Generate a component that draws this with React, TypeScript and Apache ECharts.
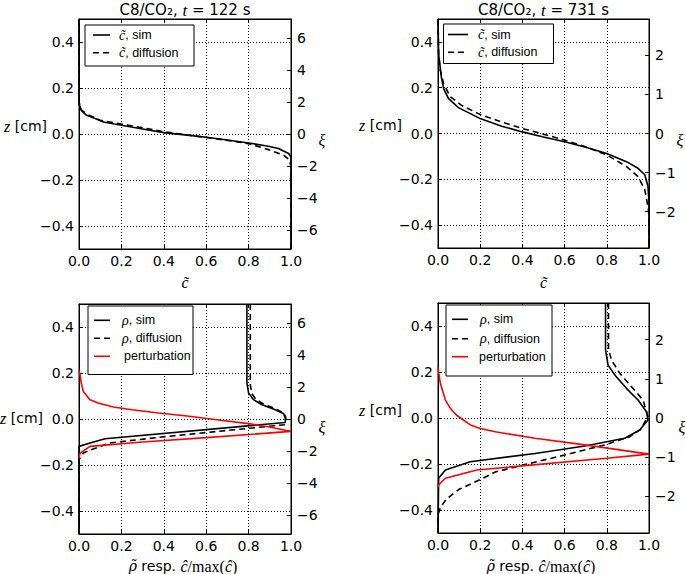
import React, { useEffect, useRef } from 'react';
import * as echarts from 'echarts';

// ---------- data: [value on x axis, z in cm] ----------
// Panel 1: t = 122 s, normalised concentration c~
const cSim122: [number, number][] = [
  [0, 0.5], [0, 0.13], [0.013, 0.1], [0.036, 0.081], [0.076, 0.067], [0.115, 0.052],
  [0.2, 0.038], [0.3, 0.022], [0.4, 0.006], [0.5, -0.004], [0.6, -0.014], [0.7, -0.026],
  [0.8, -0.039], [0.894, -0.053], [0.94, -0.063], [0.989, -0.085], [1.0, -0.1], [1.0, -0.5],
];
const cDiff122: [number, number][] = [
  [0, 0.5], [0, 0.14], [0.01, 0.105], [0.04, 0.085], [0.1, 0.06], [0.2, 0.043],
  [0.3, 0.027], [0.4, 0.01], [0.5, -0.003], [0.6, -0.015], [0.7, -0.028], [0.8, -0.042],
  [0.894, -0.068], [0.965, -0.092], [0.99, -0.11], [1.0, -0.14], [1.0, -0.5],
];
// Panel 2: t = 731 s
const cSim731: [number, number][] = [
  [0, 0.5], [0.003, 0.346], [0.016, 0.245], [0.027, 0.195], [0.05, 0.152], [0.097, 0.113],
  [0.2, 0.065], [0.302, 0.032], [0.4, 0.007], [0.5, -0.015], [0.6, -0.036], [0.7, -0.06],
  [0.8, -0.087], [0.893, -0.123], [0.948, -0.152], [0.98, -0.18], [0.995, -0.23],
  [1.0, -0.3], [1.0, -0.5],
];
const cDiff731: [number, number][] = [
  [0, 0.5], [0.003, 0.35], [0.01, 0.28], [0.027, 0.216], [0.058, 0.161], [0.113, 0.122],
  [0.2, 0.083], [0.302, 0.05], [0.4, 0.022], [0.5, -0.003], [0.6, -0.029], [0.7, -0.058],
  [0.8, -0.094], [0.893, -0.144], [0.948, -0.188], [0.98, -0.245], [0.995, -0.318],
  [1.0, -0.36], [1.0, -0.5],
];
// Panel 3: t = 122 s, density and perturbation
const rhoSim122: [number, number][] = [
  [0.792, 0.5], [0.792, 0.157], [0.8, 0.113], [0.823, 0.084], [0.863, 0.062], [0.926, 0.04],
  [0.965, 0.023], [0.973, 0.004], [0.973, -0.015], [0.123, -0.086], [0.06, -0.102],
  [0, -0.119], [0, -0.5],
];
const rhoDiff122: [number, number][] = [
  [0.808, 0.5], [0.808, 0.15], [0.815, 0.11], [0.835, 0.085], [0.87, 0.065], [0.93, 0.043],
  [0.968, 0.025], [0.976, 0.005], [0.97, -0.025], [0.414, -0.076], [0.146, -0.104],
  [0.068, -0.13], [0.02, -0.148], [0, -0.177], [0, -0.5],
];
const pert122: [number, number][] = [
  [0, 0.21], [0.005, 0.193], [0.01, 0.16], [0.02, 0.12], [0.052, 0.084], [0.09, 0.07],
  [0.162, 0.052], [0.25, 0.04], [0.375, 0.026], [0.5, 0.014], [0.65, -0.003], [0.8, -0.02],
  [0.9, -0.035], [1.0, -0.054], [0.6, -0.081], [0.3, -0.1], [0.052, -0.119],
  [0.005, -0.148], [0, -0.17],
];
// Panel 4: t = 731 s
const rhoSim731: [number, number][] = [
  [0.794, 0.5], [0.794, 0.296], [0.806, 0.23], [0.84, 0.185], [0.893, 0.129], [0.948, 0.078],
  [0.988, 0.027], [0.995, -0.009], [0.956, -0.052], [0.885, -0.088], [0.696, -0.122],
  [0.46, -0.154], [0.153, -0.19], [0.035, -0.226], [0.003, -0.262], [0, -0.5],
];
const rhoDiff731: [number, number][] = [
  [0.808, 0.5], [0.808, 0.3], [0.822, 0.252], [0.862, 0.194], [0.917, 0.136], [0.972, 0.078],
  [0.995, 0.006], [0.96, -0.05], [0.909, -0.081], [0.79, -0.117], [0.6, -0.161],
  [0.4, -0.205], [0.271, -0.235], [0.19, -0.272], [0.1, -0.31], [0.04, -0.352],
  [0.011, -0.39], [0, -0.42], [0, -0.5],
];
const pert731: [number, number][] = [
  [0, 0.22], [0.003, 0.2], [0.011, 0.151], [0.035, 0.078], [0.06, 0.04], [0.087, 0.013],
  [0.153, -0.03], [0.2, -0.046], [0.271, -0.06], [0.46, -0.088], [0.696, -0.117],
  [1.0, -0.157], [0.8, -0.175], [0.184, -0.226], [0.035, -0.262], [0.003, -0.291], [0, -0.3],
];

const titles = ['122', '731'];
const xiRange = [7.17, 2.93, 7.17, 2.93];
const xiSplit = [7, 5, 7, 5];

const SERIF = 'Liberation Serif';
const DSERIF = 'DejaVu Serif';
const SANS = 'DejaVu Sans';
const LSANS = 'Liberation Sans';

const fmtZ = (v: number) => (Math.abs(v) < 1e-9 ? '0.0' : v.toFixed(1).replace('-', '\u2212'));
const fmtXi = (v: number) => (Math.abs(v) < 1e-9 ? '0' : String(Math.round(v)).replace('-', '\u2212'));
const fmtX = (v: number) => v.toFixed(1);

const grids = [
  { left: 79, top: 19, width: 212, height: 230 },
  { left: 438, top: 19, width: 211, height: 229 },
  { left: 79, top: 304, width: 212, height: 230 },
  { left: 438, top: 303, width: 211, height: 230 },
];

const mathRich = {
  m: { fontFamily: SERIF, fontStyle: 'italic', fontSize: 16, fill: '#000' },
  g: { fontFamily: DSERIF, fontStyle: 'italic', fontSize: 14, fill: '#000' },
  r: { fontFamily: SERIF, fontSize: 16, fill: '#000' },
  a: { fontFamily: SANS, fontSize: 14, fill: '#000' },
  t: { fontFamily: SANS, fontSize: 15, fill: '#000' },
  ti: { fontFamily: SERIF, fontStyle: 'italic', fontSize: 17, fill: '#000' },
  lm: { fontFamily: SERIF, fontStyle: 'italic', fontSize: 14, fill: '#000' },
  la: { fontFamily: LSANS, fontSize: 12.5, fill: '#000' },
};

function txt(x: number, y: number, text: string, align = 'center') {
  return {
    type: 'text',
    x,
    y,
    silent: true,
    style: { text, rich: mathRich, align, verticalAlign: 'middle', fill: '#000' },
  };
}

function legend(box: number[], rows: number[], lx: number[], tx: number[], items: any[]) {
  const els: any[] = [
    {
      type: 'rect',
      silent: true,
      shape: { x: box[0], y: box[1], width: box[2], height: box[3] },
      style: { fill: '#fff', stroke: '#000', lineWidth: 1 },
      z: 100,
    },
  ];
  items.forEach((it, i) => {
    els.push({
      type: 'line',
      silent: true,
      z: 101,
      shape: { x1: lx[0], y1: rows[i], x2: lx[1], y2: rows[i] },
      style: { stroke: it.color, lineWidth: 1.6, lineDash: it.dash ? [6, 4] : null },
    });
    const t: any = txt(tx[i], rows[i], it.label, 'left');
    t.z = 101;
    els.push(t);
  });
  return els;
}

export default function App() {
  const ref = useRef<HTMLDivElement>(null);

  useEffect(() => {
    if (!ref.current) return;
    const chart = echarts.init(ref.current, undefined, { renderer: 'svg' });

    const xAxis: any[] = [];
    const yAxis: any[] = [];
    grids.forEach((_, i) => {
      xAxis.push({
        gridIndex: i, type: 'value', min: 0, max: 1, interval: 0.2, position: 'bottom',
        axisLine: { show: true, onZero: false, lineStyle: { color: '#000', width: 1 } },
        axisTick: { show: true, inside: true, length: 4, lineStyle: { color: '#000' } },
        axisLabel: { show: true, formatter: fmtX, color: '#000', fontSize: 14, fontFamily: SANS, margin: 5 },
        splitLine: { show: true, lineStyle: { color: '#000', width: 1, type: [1, 2] } },
      });
    });
    grids.forEach((_, i) => {
      xAxis.push({
        gridIndex: i, type: 'value', min: 0, max: 1, interval: 0.2, position: 'top',
        axisLine: { show: true, onZero: false, lineStyle: { color: '#000', width: 1 } },
        axisTick: { show: true, inside: true, length: 4, lineStyle: { color: '#000' } },
        axisLabel: { show: false },
        splitLine: { show: false },
      });
    });
    grids.forEach((_, i) => {
      yAxis.push({
        gridIndex: i, type: 'value', min: -0.5, max: 0.5, splitNumber: 5, position: 'left',
        axisLine: { show: true, onZero: false, lineStyle: { color: '#000', width: 1 } },
        axisTick: { show: true, inside: true, length: 4, lineStyle: { color: '#000' } },
        axisLabel: {
          show: true, formatter: fmtZ, color: '#000', fontSize: 14, fontFamily: SANS, margin: 5,
          showMinLabel: false, showMaxLabel: false,
        },
        splitLine: { show: true, lineStyle: { color: '#000', width: 1, type: [1, 2] } },
      });
    });
    grids.forEach((_, i) => {
      yAxis.push({
        gridIndex: i, type: 'value', min: -xiRange[i], max: xiRange[i], splitNumber: xiSplit[i],
        position: 'right',
        axisLine: { show: true, onZero: false, lineStyle: { color: '#000', width: 1 } },
        axisTick: { show: true, inside: true, length: 4, lineStyle: { color: '#000' } },
        axisLabel: {
          show: true, formatter: fmtXi, color: '#000', fontSize: 14, fontFamily: SANS, margin: 6,
          showMinLabel: false, showMaxLabel: false,
        },
        splitLine: { show: false },
      });
    });

    const mk = (name: string, idx: number, data: [number, number][], color: string, dashed: boolean) => ({
      name, type: 'line', xAxisIndex: idx, yAxisIndex: idx, data,
      symbol: 'none', showSymbol: false, silent: true, z: 3,
      lineStyle: { color, width: 1.6, type: dashed ? [6, 4] : 'solid' },
      itemStyle: { color },
    });

    const series = [
      mk('c sim 122', 0, cSim122, '#000', false),
      mk('c diffusion 122', 0, cDiff122, '#000', true),
      mk('c sim 731', 1, cSim731, '#000', false),
      mk('c diffusion 731', 1, cDiff731, '#000', true),
      mk('rho sim 122', 2, rhoSim122, '#000', false),
      mk('rho diffusion 122', 2, rhoDiff122, '#000', true),
      mk('perturbation 122', 2, pert122, '#ff0000', false),
      mk('rho sim 731', 3, rhoSim731, '#000', false),
      mk('rho diffusion 731', 3, rhoDiff731, '#000', true),
      mk('perturbation 731', 3, pert731, '#ff0000', false),
    ];

    const ct = 'c\u0303';
    const xlab2 = `{g|\u03c1\u0303}{a| resp. }{m|\u0109}{r|/max(}{m|\u0109}{r|)}`;
    const graphic: any[] = [
      txt(185, 10, `{t|C8/CO\u2082, }{ti|t}{t| = ${titles[0]} s}`),
      txt(543.5, 10, `{t|C8/CO\u2082, }{ti|t}{t| = ${titles[1]} s}`),
      txt(185, 282, `{m|${ct}}`),
      txt(543.5, 282, `{m|${ct}}`),
      txt(183, 566, xlab2),
      txt(541, 566, xlab2),
      txt(47, 126, `{m|z}{a| [cm]}`, 'right'),
      txt(402, 125, `{m|z}{a| [cm]}`, 'right'),
      txt(43, 418, `{m|z}{a| [cm]}`, 'right'),
      txt(402, 410, `{m|z}{a| [cm]}`, 'right'),
      txt(322, 140, `{m|\u03be}`),
      txt(680, 140, `{m|\u03be}`),
      txt(322, 427, `{m|\u03be}`),
      txt(682, 427, `{m|\u03be}`),
      ...legend([85, 25, 109, 41], [35, 52.7], [93, 110], [119, 119], [
        { color: '#000', dash: false, label: `{lm|${ct}}{la|, sim}` },
        { color: '#000', dash: true, label: `{lm|${ct}}{la|, diffusion}` },
      ]),
      ...legend([443.5, 24, 110, 39.5], [34.5, 52.3], [448, 468], [478, 478], [
        { color: '#000', dash: false, label: `{lm|${ct}}{la|, sim}` },
        { color: '#000', dash: true, label: `{lm|${ct}}{la|, diffusion}` },
      ]),
      ...legend([88, 306, 105, 68.5], [320.3, 338.2, 356.3], [94, 110], [122, 122, 124], [
        { color: '#000', dash: false, label: `{lm|\u03c1}{la|, sim}` },
        { color: '#000', dash: true, label: `{lm|\u03c1}{la|, diffusion}` },
        { color: '#ff0000', dash: false, label: `{la|perturbation}` },
      ]),
      ...legend([446, 305, 106, 71], [319.3, 338.7, 356.7], [452, 468], [480, 480, 479], [
        { color: '#000', dash: false, label: `{lm|\u03c1}{la|, sim}` },
        { color: '#000', dash: true, label: `{lm|\u03c1}{la|, diffusion}` },
        { color: '#ff0000', dash: false, label: `{la|perturbation}` },
      ]),
    ];

    chart.setOption({
      animation: false,
      backgroundColor: '#fff',
      grid: grids.map((g) => ({
        ...g, containLabel: false, outerBoundsMode: 'none',
        show: true, borderColor: '#000', borderWidth: 1, backgroundColor: 'transparent',
      })),
      xAxis,
      yAxis,
      series,
      graphic,
    });

    return () => chart.dispose();
  }, []);

  return (
    <div
      ref={ref}
      style={{ position: 'fixed', left: 0, top: 0, width: 685, height: 574, background: '#fff' }}
    />
  );
}
